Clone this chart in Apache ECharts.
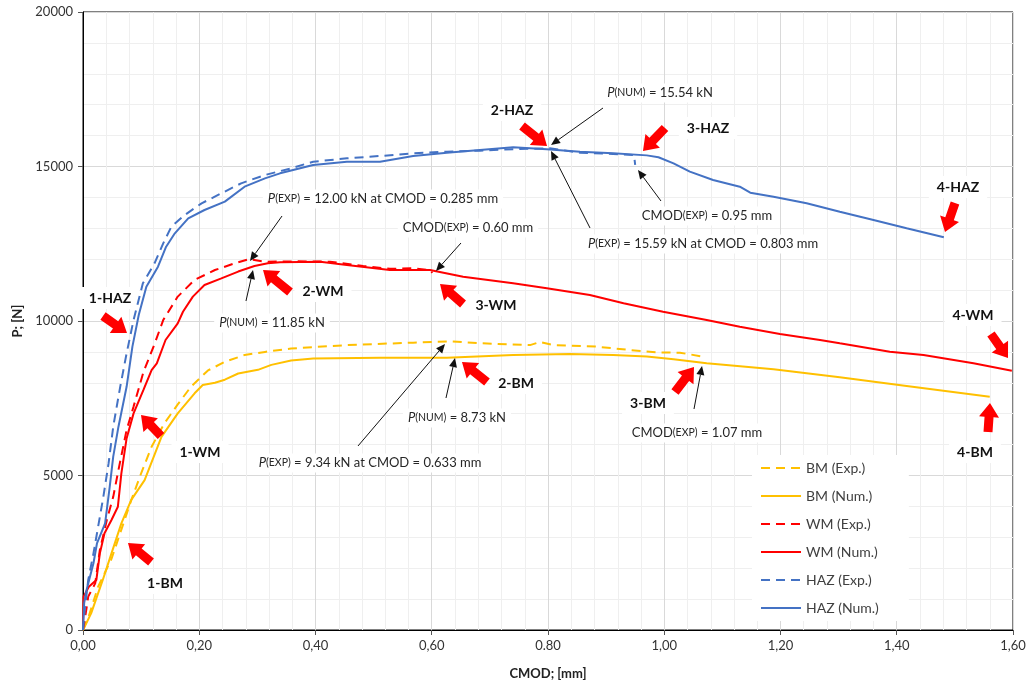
<!DOCTYPE html>
<html>
<head>
<meta charset="utf-8">
<script src="https://cdn.jsdelivr.net/npm/echarts@6/dist/echarts.min.js"></script>
<style>html,body{margin:0;padding:0;background:#fff}#c{width:1032px;height:685px}</style>
</head>
<body>
<div id="c"></div>
<script>
// ---- tick labels ----
const xTickLabels = ['0,00','0,20','0,40','0,60','0.80','1,00','1,20','1,40','1,60'];
const yTickLabels = ['0','5000','10000','15000','20000'];
const seriesNames = ['BM (Exp.)','BM (Num.)','WM (Exp.)','WM (Num.)','HAZ (Exp.)','HAZ (Num.)'];

// ---- data: [CMOD mm, P N] ----
const bmExp = [[0,0],[0.01,450],[0.026,1400],[0.049,2300],[0.066,3250],[0.083,4200],[0.10,5070],[0.118,5930],[0.14,6690],[0.163,7300],[0.186,7880],[0.215,8400],[0.244,8680],[0.278,8900],[0.313,9000],[0.358,9110],[0.454,9220],[0.568,9300],[0.633,9340],[0.683,9280],[0.769,9220],[0.786,9320],[0.809,9220],[0.884,9170],[0.941,9060],[0.993,8980],[1.027,8975],[1.067,8846]];
const bmNum = [[0,0],[0.014,540],[0.034,1620],[0.049,2480],[0.066,3450],[0.083,4210],[0.106,4850],[0.135,6250],[0.163,7010],[0.192,7660],[0.206,7930],[0.227,8000],[0.244,8100],[0.267,8300],[0.301,8420],[0.324,8580],[0.358,8720],[0.396,8790],[0.511,8810],[0.626,8810],[0.740,8900],[0.838,8930],[0.912,8900],[0.970,8850],[1.016,8760],[1.073,8630],[1.188,8440],[1.302,8180],[1.417,7900],[1.560,7550]];
const wmExp = [[0,0],[0.003,320],[0.009,1080],[0.021,1510],[0.029,2590],[0.041,3560],[0.052,4310],[0.061,5180],[0.075,6470],[0.087,7230],[0.104,8350],[0.123,9250],[0.138,10030],[0.163,10790],[0.192,11330],[0.227,11650],[0.261,11866],[0.285,12000],[0.313,11920],[0.370,11930],[0.425,11920],[0.482,11780],[0.528,11690],[0.568,11705],[0.597,11650],[0.601,11560]];
const wmNum = [[0,0],[0.001,1080],[0.01,1400],[0.023,1620],[0.029,2480],[0.037,3130],[0.049,3560],[0.060,3990],[0.066,5070],[0.075,6200],[0.087,7010],[0.104,7770],[0.118,8410],[0.127,8630],[0.142,9385],[0.163,9925],[0.172,10300],[0.189,10790],[0.209,11165],[0.238,11380],[0.267,11600],[0.295,11780],[0.318,11866],[0.339,11900],[0.408,11920],[0.454,11812],[0.528,11650],[0.597,11650],[0.654,11434],[0.740,11219],[0.798,11058],[0.872,10841],[0.930,10572],[0.998,10302],[1.073,10032],[1.130,9817],[1.199,9579],[1.268,9385],[1.302,9277],[1.388,9007],[1.446,8900],[1.532,8631],[1.598,8393]];
const hazExp = [[0,0],[0.003,650],[0.009,1620],[0.018,2480],[0.026,3340],[0.035,4310],[0.044,5390],[0.052,6580],[0.064,7870],[0.075,8950],[0.087,10030],[0.103,11219],[0.123,11866],[0.138,12514],[0.152,13053],[0.175,13430],[0.204,13808],[0.238,14132],[0.272,14455],[0.313,14725],[0.358,14941],[0.396,15156],[0.454,15264],[0.511,15340],[0.568,15426],[0.626,15480],[0.683,15512],[0.740,15560],[0.803,15590],[0.855,15447],[0.912,15405],[0.948,15372],[0.950,15050]];
const hazNum = [[0,0],[0.002,870],[0.006,1290],[0.018,2160],[0.024,2800],[0.038,3450],[0.046,4640],[0.052,5610],[0.061,6580],[0.075,7870],[0.085,9170],[0.096,10200],[0.109,11110],[0.129,11757],[0.143,12405],[0.158,12838],[0.181,13323],[0.209,13592],[0.244,13862],[0.278,14347],[0.313,14617],[0.339,14779],[0.396,15049],[0.454,15156],[0.511,15156],[0.568,15340],[0.626,15447],[0.683,15534],[0.740,15620],[0.798,15555],[0.855,15480],[0.912,15426],[0.970,15360],[0.990,15300],[1.016,15103],[1.044,14833],[1.084,14563],[1.130,14347],[1.148,14153],[1.188,14024],[1.245,13808],[1.302,13538],[1.360,13269],[1.417,13000],[1.481,12708]];

// ---- annotations (data coordinates) ----
// red block arrows: [tailX, tailY, tipX, tipY]
const redArrows = [
  [0.0344,10162,0.0757,9612],
  [0.1342,6278,0.0998,6958],
  [0.117,2201,0.0774,2816],
  [0.3561,10938,0.3097,11650],
  [0.6538,10550,0.6142,11197],
  [0.695,8026,0.652,8673],
  [0.7553,16310,0.7983,15663],
  [1.0013,16246,0.9634,15501],
  [1.5002,13819,1.483,12880],
  [1.5621,9579,1.5914,8802],
  [1.0185,7702,1.0512,8511],
  [1.557,6408,1.5604,7346]
];
// bold point labels: [text, x, y]
const pointLabels = [
  ['1-HAZ',0.0465,10744],['1-WM',0.2013,5760],['1-BM',0.1411,1521],
  ['2-WM',0.4129,10971],['3-WM',0.7105,10518],['2-BM',0.745,7993],
  ['2-HAZ',0.7381,16828],['3-HAZ',1.0753,16246],['4-HAZ',1.5054,14336],
  ['4-WM',1.5312,10194],['3-BM',0.972,7346],['4-BM',1.5346,5760]
];
// callouts: [richText, textX, textY, fromX, fromY, toX, toY]
const callouts = [
  ['{i|P}{s|(NUM)} = 15.54 kN',0.9927,17378,0.8946,16893,0.8052,15696],
  ['{i|P}{s|(EXP)} = 12.00 kN at CMOD = 0.285 mm',0.5161,13948,0.3424,13398,0.2873,11942],
  ['{i|P}{s|(NUM)} = 11.85 kN',0.3252,9935,0.2804,10647,0.2925,11650],
  ['CMOD{s|(EXP)} = 0.60 mm',0.6624,13010,0.6503,12524,0.6073,11618],
  ['CMOD{s|(EXP)} = 0.95 mm',1.0735,13398,0.9944,13883,0.9548,14887],
  ['{i|P}{s|(EXP)} = 15.59 kN at CMOD = 0.803 mm',1.0667,12492,0.8723,13010,0.8052,15501],
  ['{i|P}{s|(NUM)} = 8.73 kN',0.6434,6861,0.6245,7508,0.64,8802],
  ['{i|P}{s|(EXP)} = 9.34 kN at CMOD = 0.633 mm',0.4938,5404,0.4731,5955,0.6228,9256],
  ['CMOD{s|(EXP)} = 1.07 mm',1.0563,6375,1.0512,7152,1.065,8544]
];

const FONT = 'Lato, "Open Sans", sans-serif';
const colors = {BM:'#FFC000', WM:'#FF0000', HAZ:'#4472C4'};
const dash = [9,6];

function mk(name, data, color, dashed){
  return {name, type:'line', data, symbol:'none', showSymbol:false, z:3,
    lineStyle:{color, width:2, type: dashed ? dash : 'solid'}, itemStyle:{color}};
}

const chart = echarts.init(document.getElementById('c'), null, {renderer:'canvas'});
chart.setOption({
  animation:false,
  backgroundColor:'#fff',
  textStyle:{fontFamily:FONT},
  grid:{left:83, right:19, top:12, bottom:55, show:true, borderColor:'#000', borderWidth:1, backgroundColor:'transparent'},
  xAxis:{type:'value', min:0, max:1.6, interval:0.2,
    axisLine:{lineStyle:{color:'#000'}},
    axisTick:{show:true, length:5, lineStyle:{color:'#555'}},
    axisLabel:{color:'#333', fontSize:13, fontFamily:FONT, margin:9,
      formatter:v=>xTickLabels[Math.round(v/0.2)]},
    splitLine:{show:true, lineStyle:{color:'#d9d9d9'}},
    minorTick:{show:false, splitNumber:5},
    minorSplitLine:{show:true, lineStyle:{color:'#efefef'}},
    name:'CMOD; [mm]', nameLocation:'middle', nameGap:37,
    nameTextStyle:{fontWeight:'bold', fontSize:13, color:'#222', fontFamily:FONT}},
  yAxis:{type:'value', min:0, max:20000, interval:5000,
    axisLine:{show:true, lineStyle:{color:'#000'}},
    axisTick:{show:true, length:5, lineStyle:{color:'#555'}},
    axisLabel:{color:'#333', fontSize:13, fontFamily:FONT, margin:10,
      formatter:v=>yTickLabels[Math.round(v/5000)]},
    splitLine:{show:true, lineStyle:{color:'#d9d9d9'}},
    minorTick:{show:false, splitNumber:5},
    minorSplitLine:{show:true, lineStyle:{color:'#efefef'}},
    name:'P; [N]', nameLocation:'middle', nameGap:58,
    nameTextStyle:{fontWeight:'bold', fontSize:13, color:'#222', fontFamily:FONT}},
  legend:{orient:'vertical', left:752, top:455, itemWidth:40, itemHeight:14, itemGap:14,
    backgroundColor:'#fff', padding:[6,30,6,8], z:6,
    itemStyle:{color:'transparent', borderColor:'transparent', borderWidth:0, opacity:0},
    textStyle:{fontSize:14, color:'#404040', fontFamily:FONT},
    data:seriesNames},
  series:[
    mk(seriesNames[0], bmExp, colors.BM, true),
    mk(seriesNames[1], bmNum, colors.BM, false),
    mk(seriesNames[2], wmExp, colors.WM, true),
    mk(seriesNames[3], wmNum, colors.WM, false),
    mk(seriesNames[4], hazExp, colors.HAZ, true),
    mk(seriesNames[5], hazNum, colors.HAZ, false)
  ]
});

function px(x,y){ return chart.convertToPixel({gridIndex:0},[x,y]); }

const g = [];
const rich = {
  i:{fontStyle:'italic', fontSize:13, fontFamily:FONT, fill:'#262626'},
  s:{fontSize:10.5, fontFamily:FONT, fill:'#262626'}
};
callouts.forEach(c=>{
  const p = px(c[1],c[2]);
  g.push({type:'text', z:1, style:{text:c[0], x:p[0], y:p[1], align:'center', verticalAlign:'middle',
    fontSize:13, fontFamily:FONT, fill:'#262626', backgroundColor:'#fff', padding:[3,5], rich}});
});
pointLabels.forEach(l=>{
  const p = px(l[1],l[2]);
  g.push({type:'text', z:1, style:{text:l[0], x:p[0], y:p[1], align:'center', verticalAlign:'middle',
    fontSize:14, fontWeight:'bold', fontFamily:FONT, fill:'#111', backgroundColor:'#fff', padding:[4,8]}});
});
callouts.forEach(c=>{
  const a = px(c[3],c[4]), b = px(c[5],c[6]);
  const dx=b[0]-a[0], dy=b[1]-a[1], L=Math.hypot(dx,dy), ux=dx/L, uy=dy/L, nx=-uy, ny=ux;
  const hl=9, hw=4;
  const bx=b[0]-ux*hl, by=b[1]-uy*hl;
  g.push({type:'line', z:10, shape:{x1:a[0],y1:a[1],x2:bx,y2:by}, style:{stroke:'#111', lineWidth:1}});
  g.push({type:'polygon', z:10, shape:{points:[[b[0],b[1]],[bx+nx*hw,by+ny*hw],[bx-nx*hw,by-ny*hw]]}, style:{fill:'#111'}});
});
redArrows.forEach(r=>{
  const t = px(r[0],r[1]), p = px(r[2],r[3]);
  const dx=p[0]-t[0], dy=p[1]-t[1], L=Math.hypot(dx,dy), ux=dx/L, uy=dy/L, nx=-uy, ny=ux;
  const hl=14, hw=10, sw=4.5;
  const bx=p[0]-ux*hl, by=p[1]-uy*hl;
  g.push({type:'polygon', z:11, shape:{points:[
    [t[0]+nx*sw,t[1]+ny*sw],[bx+nx*sw,by+ny*sw],[bx+nx*hw,by+ny*hw],[p[0],p[1]],
    [bx-nx*hw,by-ny*hw],[bx-nx*sw,by-ny*sw],[t[0]-nx*sw,t[1]-ny*sw]]}, style:{fill:'#FF0000'}});
});
chart.setOption({graphic:g});
</script>
</body>
</html>
